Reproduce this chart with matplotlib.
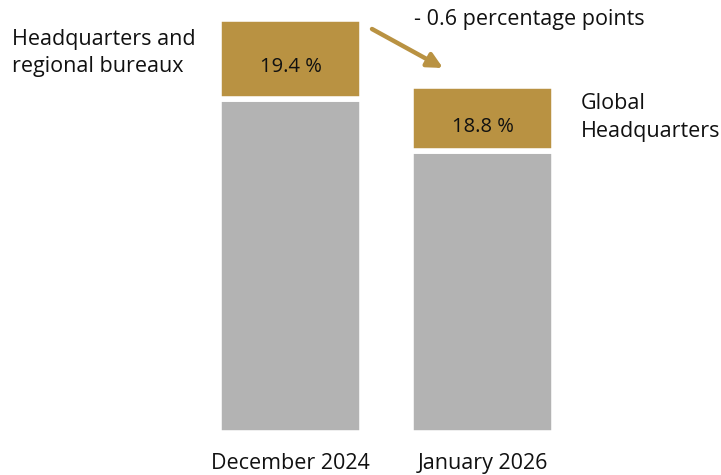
import matplotlib
matplotlib.use("Agg")
import matplotlib.pyplot as plt

categories = ["December 2024", "January 2026"]
gold_share_labels = ["19.4 %", "18.8 %"]
gold_values = [19.4, 15.7]
gray_values = [80.6, 68.0]
series_labels = ["Headquarters and\nregional bureaux", "Global\nHeadquarters"]
change_label = "- 0.6 percentage points"

GOLD = "#B99242"
GRAY = "#B3B3B3"
FONT = "Open Sans"
plt.rcParams["font.family"] = [FONT, "DejaVu Sans"]

W, H = 721, 475
fig = plt.figure(figsize=(W / 100, H / 100), dpi=100)
ax = fig.add_axes([0, 0, 1, 1])
# pixel mapping: x_px = 290.5 + 192*x ; y_px = 432.5 - 4.137*y
ax.set_xlim(-290.5 / 192, (W - 290.5) / 192)
ax.set_ylim(-(H - 432.5) / 4.137, 432.5 / 4.137)
ax.axis("off")

x = [0, 1]
ax.bar(x, gray_values, width=0.74, color=GRAY, edgecolor="white", linewidth=4)
ax.bar(x, gold_values, bottom=gray_values, width=0.74, color=GOLD,
       edgecolor="white", linewidth=4)

for xi, g, b, lab in zip(x, gold_values, gray_values, gold_share_labels):
    ax.annotate(lab, (xi, b + g / 2), xytext=(0, -6), textcoords="offset points",
                ha="center", va="center", fontsize=14.5, color="#111111")

def px(xp, yp):
    return xp / W, 1 - yp / H

fig.text(*px(12, 53), series_labels[0], ha="left", va="center", fontsize=15.5,
         linespacing=1.38, color="#111111")
fig.text(*px(581, 117.5), series_labels[1], ha="left", va="center", fontsize=15.5,
         linespacing=1.38, color="#111111")
fig.text(*px(414, 20), change_label, ha="left", va="center", fontsize=15.5,
         color="#111111")

for xi, c in zip(x, categories):
    ax.annotate(c, (xi, 0), xytext=(0, -22), textcoords="offset points",
                ha="center", va="center", fontsize=15.5, color="#111111")

ax.annotate("", xy=px(443, 68), xytext=px(372, 29), xycoords="figure fraction",
            textcoords="figure fraction",
            arrowprops=dict(arrowstyle="-|>,head_length=0.9,head_width=0.45",
                            color=GOLD, lw=3.2, shrinkA=0, shrinkB=0))

fig.savefig("out.png", dpi=100, facecolor="white")
